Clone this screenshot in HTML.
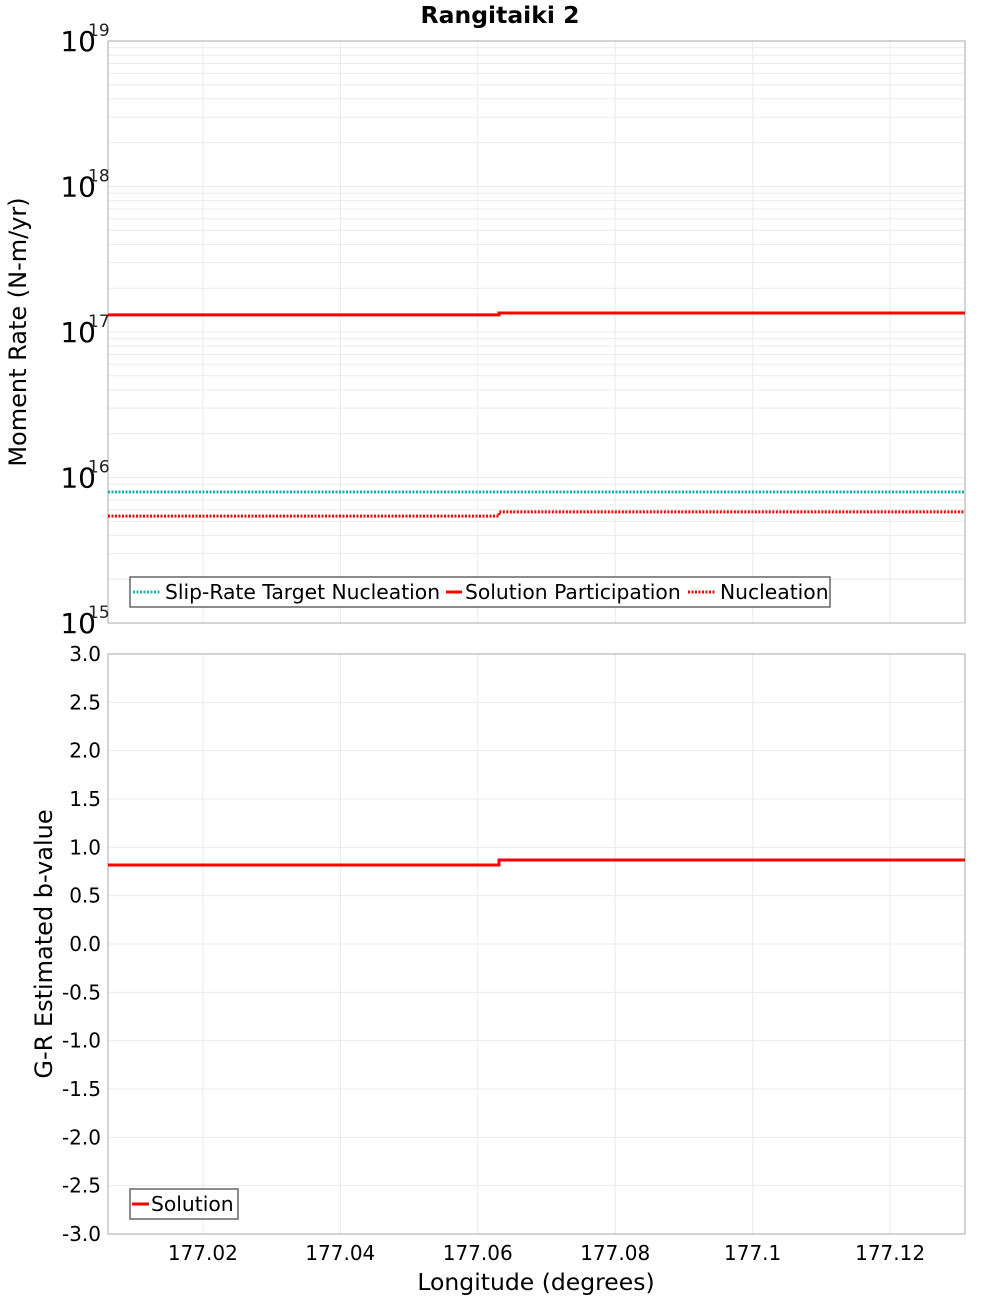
<!DOCTYPE html>
<html><head><meta charset="utf-8"><style>
body{margin:0;background:#fff}
svg{display:block;font-family:"DejaVu Sans","Liberation Sans",sans-serif}
</style></head><body>
<svg id="c" width="1000" height="1300" xmlns="http://www.w3.org/2000/svg"></svg>
<script>
const xTicks=[177.02,177.04,177.06,177.08,177.1,177.12];
const xTickLabels=["177.02","177.04","177.06","177.08","177.1","177.12"];
const segX=[177.0062,177.0631,177.1309];
const slipTarget=[7.95e15,7.95e15];
const solutionPart=[1.31e17,1.35e17];
const nucleation=[5.43e15,5.8e15];
const bValues=[0.817,0.869];
const logDecades=[15,16,17,18,19];
const bTicks=[3.0,2.5,2.0,1.5,1.0,0.5,0.0,-0.5,-1.0,-1.5,-2.0,-2.5,-3.0];

const svg=document.getElementById('c');
const NS='http://www.w3.org/2000/svg';
function mk(t,a,p){const e=document.createElementNS(NS,t);for(const k in a)e.setAttribute(k,a[k]);(p||svg).appendChild(e);return e;}
const L=108,R=965,T1=41,B1=623,T2=654,B2=1234;
const xs=v=>L+(v-segX[0])/(segX[2]-segX[0])*(R-L);
const ly=v=>B1-(Math.log10(v)-15)/4*(B1-T1);
const by=v=>B2-(v+3)/6*(B2-T2);

let t=mk('text',{x:500,y:23,'text-anchor':'middle','font-size':23.5,'font-weight':'bold'});t.textContent='Rangitaiki 2';



let g=mk('g',{});


for(let d=15;d<19;d++){for(let m=1;m<10;m++){const y=ly(m*Math.pow(10,d));mk('line',{x1:L,x2:R,y1:y,y2:y,stroke:'#ebebeb','stroke-width':1},g);}}
xTicks.forEach(v=>{mk('line',{x1:xs(v),x2:xs(v),y1:T1,y2:B1,stroke:'#ebebeb'},g);mk('line',{x1:xs(v),x2:xs(v),y1:T2,y2:B2,stroke:'#ebebeb'},g);});
bTicks.forEach(v=>mk('line',{x1:L,x2:R,y1:by(v),y2:by(v),stroke:'#ebebeb'},g));

let f1=mk('rect',{x:L,y:T1,width:R-L,height:B1-T1,fill:'none',stroke:'#aaa'});


let f2=mk('rect',{x:L,y:T2,width:R-L,height:B2-T2,fill:'none',stroke:'#aaa'});



logDecades.forEach(d=>{const y=ly(Math.pow(10,d));
 const tx=mk('text',{x:96,y:y+10,'font-size':28,'text-anchor':'end'});tx.textContent='10';
 
 
 const sp=mk('text',{x:88,y:y-5,'font-size':17,'fill':'#222'});sp.textContent=String(d);
 
 
});
bTicks.forEach(v=>{const tx=mk('text',{x:101,y:by(v)+7,'font-size':20,'text-anchor':'end'});tx.textContent=v.toFixed(1);
 
 });
xTicks.forEach((v,i)=>{const tx=mk('text',{x:xs(v),y:1260,'font-size':20,'text-anchor':'middle'});tx.textContent=xTickLabels[i];
 
 });

t=mk('text',{x:0,y:0,'font-size':24,'text-anchor':'middle',transform:'translate(26,332) rotate(-90)'});t.textContent='Moment Rate (N-m/yr)';


t=mk('text',{x:0,y:0,'font-size':24,'text-anchor':'middle',transform:'translate(52,944) rotate(-90)'});t.textContent='G-R Estimated b-value';


t=mk('text',{x:536,y:1290,'font-size':23.5,'text-anchor':'middle'});t.textContent='Longitude (degrees)';



function step(vals,yf,color,dash,name){
 let d='';
 vals.forEach((v,i)=>{const x0=xs(segX[i]),x1=xs(segX[i+1]),y=yf(v);d+=(i===0?'M':'L')+x0+','+y+'L'+x1+','+y;});
 const p=mk('path',{d:d,fill:'none',stroke:color,'stroke-width':3});
 if(dash)p.setAttribute('stroke-dasharray','2,1.5');
 
 
}
step(slipTarget,ly,'#1ab3b3',true,'slip-rate-target-line');
step(nucleation,ly,'#ff0000',true,'nucleation-line');
step(solutionPart,ly,'#ff0000',false,'solution-participation-line');
step(bValues,by,'#ff0000',false,'b-value-solution-line');

let lg=mk('g',{});


mk('rect',{x:130,y:577,width:700,height:30,fill:'#fff',stroke:'#666','stroke-width':1.5},lg);
mk('line',{x1:133,x2:161,y1:592,y2:592,stroke:'#1ab3b3','stroke-width':3,'stroke-dasharray':'2,1.5'},lg);
t=mk('text',{x:165,y:599,'font-size':20.3},lg);t.textContent='Slip-Rate Target Nucleation';
mk('line',{x1:446,x2:462,y1:592,y2:592,stroke:'#f00','stroke-width':3},lg);
t=mk('text',{x:465,y:599,'font-size':20.3},lg);t.textContent='Solution Participation';
mk('line',{x1:688,x2:716,y1:592,y2:592,stroke:'#f00','stroke-width':3,'stroke-dasharray':'2,1.5'},lg);
t=mk('text',{x:720,y:599,'font-size':20.3},lg);t.textContent='Nucleation';

lg=mk('g',{});


mk('rect',{x:130,y:1189,width:108,height:30,fill:'#fff',stroke:'#666','stroke-width':1.5},lg);
mk('line',{x1:132,x2:149,y1:1204,y2:1204,stroke:'#f00','stroke-width':3},lg);
t=mk('text',{x:151,y:1211,'font-size':20.3},lg);t.textContent='Solution';
</script>
</body></html>
